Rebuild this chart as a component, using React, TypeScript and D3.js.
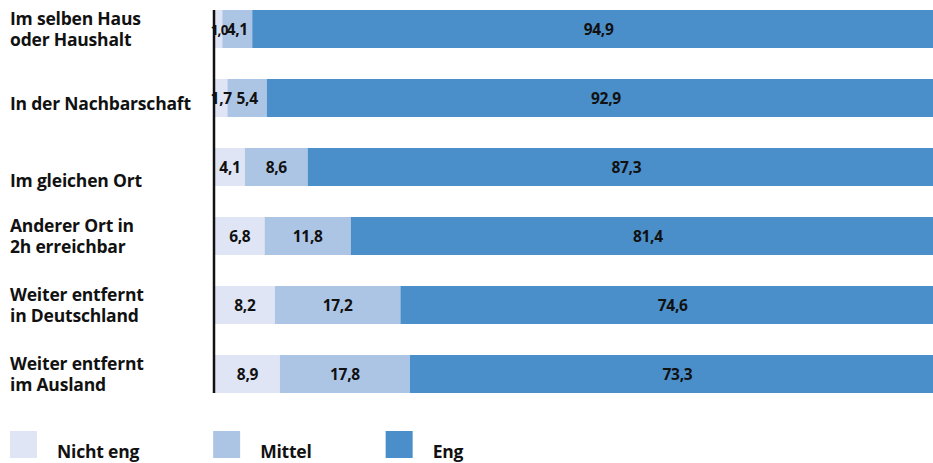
import { useEffect, useRef } from "react";
import * as d3 from "d3";

// Categories (line breaks as in the original labels)
const categories = [
  "Im selben Haus\noder Haushalt",
  "In der Nachbarschaft",
  "Im gleichen Ort",
  "Anderer Ort in\n2h erreichbar",
  "Weiter entfernt\nin Deutschland",
  "Weiter entfernt\nim Ausland",
];

const seriesNames = ["Nicht eng", "Mittel", "Eng"];

const nichtEng = [1.0, 1.7, 4.1, 6.8, 8.2, 8.9];
const mittel = [4.1, 5.4, 8.6, 11.8, 17.2, 17.8];
const eng = [94.9, 92.9, 87.3, 81.4, 74.6, 73.3];

const colors = ["#dfe5f4", "#adc5e5", "#4a8fc9"];

// single-line labels sit a bit low in the original
const labelShift = [0, 5, 13, 0, 0, 0];

const W = 933;
const H = 463;
const FONT = "'Open Sans', sans-serif";

export default function App() {
  const svgRef = useRef<SVGSVGElement>(null);

  useEffect(() => {
    if (!svgRef.current) return;
    const svg = d3.select(svgRef.current);
    svg.selectAll("*").remove();

    const x = d3.scaleLinear().domain([0, 100]).range([215, 945]);
    const y = d3
      .scaleBand<string>()
      .domain(categories)
      .range([-5.5, 408.5])
      .paddingInner(31 / 69)
      .paddingOuter(31 / 138);

    const rows = categories.map((c, i) => {
      const values = [nichtEng[i], mittel[i], eng[i]];
      let acc = 0;
      const segs = values.map((v, s) => {
        const seg = { v, s, start: acc, end: acc + v };
        acc += v;
        return seg;
      });
      return { cat: c, idx: i, segs };
    });

    const g = svg.append("g");

    // Bars first
    rows.forEach((row) => {
      row.segs.forEach((seg) => {
        g.append("rect")
          .attr("x", x(seg.start))
          .attr("y", y(row.cat)!)
          .attr("width", x(seg.end) - x(seg.start))
          .attr("height", y.bandwidth())
          .attr("fill", colors[seg.s]);
      });
    });

    // Value labels on top
    rows.forEach((row) => {
      row.segs.forEach((seg) => {
        const narrow = x(seg.end) - x(seg.start) < 12;
        g.append("text")
          .attr("x", (x(seg.start) + x(seg.end)) / 2 + (narrow ? 0.5 : 0))
          .attr("y", y(row.cat)! + y.bandwidth() / 2 + 6)
          .attr("text-anchor", "middle")
          .style("font-family", FONT)
          .style("font-weight", 700)
          .style("font-size", narrow ? "13.5px" : "15.5px")
          .style("letter-spacing", narrow ? "-0.8px" : "-0.3px")
          .style("fill", "#111")
          .text(d3.format(".1f")(seg.v).replace(".", ","));
      });
    });

    // Axis line
    g.append("line")
      .attr("x1", 214)
      .attr("x2", 214)
      .attr("y1", y(categories[0])!)
      .attr("y2", y(categories[categories.length - 1])! + y.bandwidth())
      .attr("stroke", "#111")
      .attr("stroke-width", 2.5);

    // Category labels
    rows.forEach((row) => {
      const lines = row.cat.split("\n");
      const lh = 21;
      const center = y(row.cat)! + y.bandwidth() / 2 + labelShift[row.idx];
      const first = center + 6.5 - ((lines.length - 1) * lh) / 2;
      const t = g
        .append("text")
        .style("font-family", FONT)
        .style("font-weight", 700)
        .style("font-size", "17.5px")
        .style("letter-spacing", "-0.2px")
        .style("fill", "#111");
      lines.forEach((l, k) => {
        t.append("tspan")
          .attr("x", 10)
          .attr("y", first + k * lh)
          .text(l);
      });
    });

    // Legend
    const legend = svg.append("g").attr("transform", "translate(10,431)");
    let lx = 0;
    seriesNames.forEach((name, s) => {
      legend
        .append("rect")
        .attr("x", lx)
        .attr("y", 0)
        .attr("width", 27)
        .attr("height", 27)
        .attr("fill", colors[s]);
      const txt = legend
        .append("text")
        .attr("x", lx + 47)
        .attr("y", 26.5)
        .style("font-family", FONT)
        .style("font-weight", 700)
        .style("font-size", "17.5px")
        .style("letter-spacing", "-0.2px")
        .style("fill", "#111")
        .text(name);
      const w = (txt.node() as SVGTextElement).getComputedTextLength();
      lx += 47 + w + 74;
    });
  }, []);

  return (
    <svg
      ref={svgRef}
      width={W}
      height={H}
      style={{ position: "absolute", left: 0, top: 0, background: "#fff" }}
    />
  );
}
